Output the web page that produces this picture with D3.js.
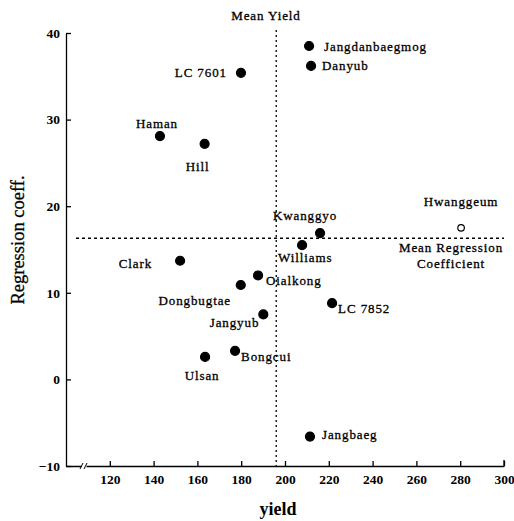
<!DOCTYPE html>
<html>
<head>
<meta charset="utf-8">
<script src="https://cdn.jsdelivr.net/npm/d3@7"></script>
<style>
    body { margin: 0; background: #fff; }
    text { font-family: "Liberation Serif", "DejaVu Serif", serif; fill: #000; }
</style>
</head>
<body>
<script>
(function () {

    // Data
    var cultivars = ["Jangdanbaegmog", "Danyub", "LC 7601", "Haman", "Hill", "Kwanggyo",
        "Williams", "Hwanggeum", "Clark", "Oialkong", "Dongbugtae", "LC 7852",
        "Jangyub", "Bongcui", "Ulsan", "Jangbaeg"];
    var yields = [211.0, 211.9, 179.9, 142.9, 163.3, 216.0,
        207.8, 280.4, 152.1, 187.7, 179.8, 221.5,
        190.1, 177.2, 163.5, 211.4];
    var coeffs = [38.5, 36.2, 35.4, 28.1, 27.2, 16.9,
        15.5, 17.5, 13.7, 12.0, 10.9, 8.8,
        7.5, 3.3, 2.6, -6.6];
    var openPoints = ["Hwanggeum"];

    var meanYield = 196;
    var meanCoeff = 16.3;

    var xTicks = [120, 140, 160, 180, 200, 220, 240, 260, 280, 300];
    var yTicks = [-10, 0, 10, 20, 30, 40];

    // label placement relative to the dot: [dx, dy, anchor]
    var labelPos = {
        "Jangdanbaegmog": [15, 0, "start"],
        "Danyub": [11, 0, "start"],
        "LC 7601": [-14, 0, "end"],
        "Haman": [-3, -13, "middle"],
        "Hill": [-7, 23, "middle"],
        "Kwanggyo": [-15, -18, "middle"],
        "Williams": [-24, 12.5, "start"],
        "Hwanggeum": [0, -26, "middle"],
        "Clark": [-28, 3, "end"],
        "Oialkong": [8, 5, "start"],
        "Dongbugtae": [-46, 15, "middle"],
        "LC 7852": [6, 5, "start"],
        "Jangyub": [-4, 8, "end"],
        "Bongcui": [6, 6, "start"],
        "Ulsan": [-3, 19, "middle"],
        "Jangbaeg": [12, -2, "start"]
    };

    var data = cultivars.map(function (c, i) {
        return {name: c, yield: yields[i], coeff: coeffs[i]};
    });

    var W = 514, H = 521;
    var margin = {top: 33, right: 10, bottom: 55, left: 66};

    var svg = d3.select("body").append("svg")
        .attr("width", W)
        .attr("height", H);

    var x = d3.scaleLinear().domain([100, 300]).range([margin.left, W - margin.right]);
    var y = d3.scaleLinear().domain([-10, 40]).range([H - margin.bottom, margin.top]);

    // Axes
    var xAxis = svg.append("g")
        .attr("transform", "translate(0," + (H - margin.bottom) + ")")
        .call(d3.axisBottom(x).tickValues(xTicks).tickSizeInner(-5).tickSizeOuter(0).tickPadding(8));

    var yAxis = svg.append("g")
        .attr("transform", "translate(" + margin.left + ",0)")
        .call(d3.axisLeft(y).tickValues(yTicks).tickSizeInner(-5).tickSizeOuter(0).tickPadding(6)
            .tickFormat(function (d) { return d < 0 ? "\u2212" + Math.abs(d) : d; }));

    [xAxis, yAxis].forEach(function (a) {
        a.selectAll("path, line").attr("stroke", "#000").attr("stroke-width", 1.3);
        a.selectAll("text")
            .style("font-family", "'Liberation Serif', serif")
            .style("font-size", "13.5px")
            .style("font-weight", "bold")
            .attr("fill", "#000");
    });
    // end tick at 300
    xAxis.append("line")
        .attr("x1", x(300)).attr("x2", x(300))
        .attr("y1", 0).attr("y2", -6)
        .attr("stroke", "#000").attr("stroke-width", 1.3);

    // axis break near the origin
    var bx = x(108);
    var by = H - margin.bottom;
    svg.append("rect")
        .attr("x", bx - 2).attr("y", by - 2)
        .attr("width", 5).attr("height", 4)
        .attr("fill", "#fff");
    [-2, 2].forEach(function (o) {
        svg.append("line")
            .attr("x1", bx + o - 1.5).attr("y1", by + 3)
            .attr("x2", bx + o + 1.5).attr("y2", by - 3)
            .attr("stroke", "#000").attr("stroke-width", 1);
    });

    // Mean lines
    svg.append("line")
        .attr("x1", x(meanYield)).attr("x2", x(meanYield))
        .attr("y1", 30).attr("y2", H - margin.bottom)
        .attr("stroke", "#000").attr("stroke-width", 1.3)
        .attr("stroke-dasharray", "2,3");

    svg.append("line")
        .attr("x1", 76).attr("x2", x(300))
        .attr("y1", y(meanCoeff)).attr("y2", y(meanCoeff))
        .attr("stroke", "#000").attr("stroke-width", 1.3)
        .attr("stroke-dasharray", "3,3");

    function note(tx, ty, s) {
        svg.append("text")
            .attr("x", tx).attr("y", ty)
            .attr("dy", "0.35em")
            .attr("text-anchor", "middle")
            .style("font-size", "13px")
            .style("letter-spacing", "0.9px")
            .style("stroke", "#000")
            .style("stroke-width", "0.3px")
            .text(s);
    }
    note(266, 15, "Mean Yield");
    note(451, 247, "Mean Regression");
    note(451, 263, "Coefficient");

    // Points
    svg.selectAll(".dot")
        .data(data)
        .enter().append("circle")
        .attr("class", "dot")
        .attr("cx", function (d) { return x(d.yield); })
        .attr("cy", function (d) { return y(d.coeff); })
        .attr("r", function (d) { return openPoints.indexOf(d.name) >= 0 ? 3.3 : 4.5; })
        .attr("fill", function (d) { return openPoints.indexOf(d.name) >= 0 ? "#fff" : "#000"; })
        .attr("stroke", "#000")
        .attr("stroke-width", 1.2);

    svg.selectAll(".label")
        .data(data)
        .enter().append("text")
        .attr("class", "label")
        .attr("x", function (d) { return x(d.yield) + labelPos[d.name][0]; })
        .attr("y", function (d) { return y(d.coeff) + labelPos[d.name][1]; })
        .attr("dy", "0.35em")
        .attr("text-anchor", function (d) { return labelPos[d.name][2]; })
        .style("font-size", "13px")
        .style("letter-spacing", "0.9px")
        .style("stroke", "#000")
        .style("stroke-width", "0.3px")
        .text(function (d) { return d.name; });

    // Axis titles
    svg.append("text")
        .attr("x", 278).attr("y", 509)
        .attr("dy", "0.35em")
        .attr("text-anchor", "middle")
        .style("font-size", "18px")
        .style("font-weight", "bold")
        .text("yield");

    svg.append("text")
        .attr("transform", "translate(18,240) rotate(-90)")
        .attr("dy", "0.35em")
        .attr("text-anchor", "middle")
        .style("font-size", "18.5px")
        .style("stroke", "#000")
        .style("stroke-width", "0.3px")
        .text("Regression coeff.");

})();
</script>
</body>
</html>
